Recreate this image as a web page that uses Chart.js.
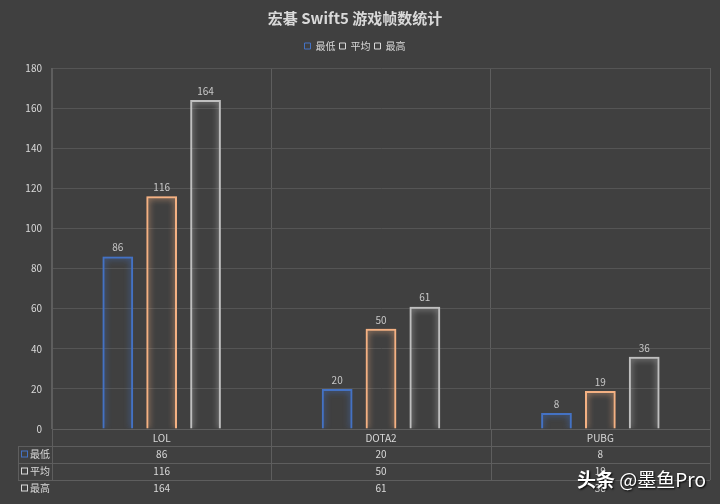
<!DOCTYPE html>
<html>
<head>
<meta charset="utf-8">
<script src="https://cdn.jsdelivr.net/npm/chart.js@4.4.1/dist/chart.umd.min.js"></script>
<style>
  html, body { margin: 0; padding: 0; background: #404040; }
  #wrap { position: relative; width: 720px; height: 504px; }
  #marca { position: absolute; left: 577px; top: 465px; font-family: "Noto Sans CJK SC"; font-size: 19px; color: #ffffff; text-shadow: 1px 1px 2px #000; white-space: nowrap; }
  #marca b { font-weight: bold; }
</style>
</head>
<body>
<div id="wrap">
  <canvas id="grafico" width="720" height="504"></canvas>
  <div id="marca"><b>头条</b> @墨鱼Pro</div>
</div>
<script>
// datos
const categorias = ["LOL", "DOTA2", "PUBG"];
const series = ["最低", "平均", "最高"];
const minimo = [86, 20, 8];
const promedio = [116, 50, 19];
const maximo = [164, 61, 36];
const colores = ["#4472C4", "#F4B183", "#BFBFBF"];
const marcadores = ["#4472C4", "#D9D9D9", "#D9D9D9"];

const valores = [minimo, promedio, maximo];
const fuente = '"Noto Sans CJK SC", "Noto Sans", sans-serif';
const textoColor = "#D9D9D9";
const lineaColor = "#5E5E5E";

// espacio extra debajo de la leyenda
const espacioLeyenda = {
    id: "espacioLeyenda",
    beforeLayout(chart) {
        const lg = chart.legend;
        if (lg && !lg._parchado) {
            const fitOriginal = lg.fit;
            lg.fit = function () {
                fitOriginal.call(this);
                this.height += 7;
            };
            lg._parchado = true;
        }
    }
};

// brillo alrededor de las barras
const brillo = {
    id: "brillo",
    beforeDatasetDraw(chart, args) {
        const ctx = chart.ctx;
        ctx.save();
        ctx.shadowColor = colores[args.index];
        ctx.shadowBlur = 6;
    },
    afterDatasetDraw(chart) {
        chart.ctx.restore();
    }
};

// numeros encima de cada barra
const etiquetas = {
    id: "etiquetas",
    afterDatasetsDraw(chart) {
        const ctx = chart.ctx;
        ctx.save();
        ctx.font = "10px " + fuente;
        ctx.fillStyle = "#C8C8C8";
        ctx.textAlign = "center";
        ctx.textBaseline = "bottom";
        chart.data.datasets.forEach((ds, i) => {
            chart.getDatasetMeta(i).data.forEach((bar, j) => {
                ctx.fillText(ds.data[j], bar.x, bar.y - 4);
            });
        });
        ctx.restore();
    }
};

// tabla de datos debajo del eje
const tabla = {
    id: "tabla",
    afterDraw(chart) {
        const ctx = chart.ctx;
        const a = chart.chartArea;
        const x = chart.scales.x;
        const fila = 17;
        const izq = 18;
        ctx.save();
        ctx.strokeStyle = lineaColor;
        ctx.lineWidth = 1;
        ctx.beginPath();
        for (let r = 1; r <= 3; r++) {
            const y = Math.round(a.bottom + fila * r) + 0.5;
            ctx.moveTo(izq, y);
            ctx.lineTo(a.right, y);
        }
        for (let c = 0; c <= categorias.length; c++) {
            const px = Math.round(x.getPixelForValue(c - 0.5)) + 0.5;
            ctx.moveTo(px, a.bottom);
            ctx.lineTo(px, a.bottom + fila * 3);
        }
        ctx.moveTo(izq + 0.5, a.bottom + fila);
        ctx.lineTo(izq + 0.5, a.bottom + fila * 3);
        ctx.stroke();

        ctx.font = "10px " + fuente;
        ctx.fillStyle = textoColor;
        ctx.textBaseline = "middle";
        series.forEach((nombre, r) => {
            const yc = a.bottom + fila * (r + 1) + fila / 2;
            ctx.strokeStyle = marcadores[r];
            ctx.strokeRect(izq + 3.5, yc - 3.5, 6, 6);
            ctx.fillStyle = textoColor;
            ctx.textAlign = "left";
            ctx.fillText(nombre, izq + 12, yc);
            ctx.textAlign = "center";
            valores[r].forEach((v, c) => {
                ctx.fillText(v, x.getPixelForValue(c), yc);
            });
        });
        ctx.restore();
    }
};

new Chart(document.getElementById("grafico").getContext("2d"), {
    type: "bar",
    data: {
        labels: categorias,
        datasets: series.map((s, i) => ({
            label: s,
            data: valores[i],
            backgroundColor: "rgba(0,0,0,0)",
            borderColor: colores[i],
            borderWidth: 2,
            categoryPercentage: 0.6,
            barPercentage: 0.7
        }))
    },
    options: {
        responsive: false,
        animation: false,
        layout: {
            padding: { left: 0, right: 10, top: 0, bottom: 7 }
        },
        plugins: {
            title: {
                display: true,
                text: "宏碁 Swift5 游戏帧数统计",
                color: textoColor,
                font: { family: fuente, size: 15, weight: "bold" },
                padding: { top: 9, bottom: 10 }
            },
            legend: {
                display: true,
                labels: {
                    color: textoColor,
                    font: { family: fuente, size: 10 },
                    boxWidth: 6,
                    boxHeight: 6,
                    padding: 4,
                    generateLabels(chart) {
                        return chart.data.datasets.map((ds, i) => ({
                            text: ds.label,
                            fillStyle: "rgba(0,0,0,0)",
                            strokeStyle: marcadores[i],
                            lineWidth: 1,
                            fontColor: textoColor,
                            datasetIndex: i
                        }));
                    }
                }
            },
            tooltip: { enabled: false }
        },
        scales: {
            x: {
                grid: { display: true, offset: true, color: lineaColor, drawTicks: false },
                border: { color: lineaColor },
                ticks: { color: textoColor, font: { family: fuente, size: 10 }, padding: 3 },
                afterFit(scale) { scale.height = 68; }
            },
            y: {
                min: 0,
                max: 180,
                ticks: { stepSize: 20, color: textoColor, font: { family: fuente, size: 10 }, padding: 10 },
                grid: { color: "#555555", drawTicks: false },
                border: { color: lineaColor },
                afterFit(scale) { scale.width = 52; }
            }
        }
    },
    plugins: [espacioLeyenda, brillo, etiquetas, tabla]
});
</script>
</body>
</html>
